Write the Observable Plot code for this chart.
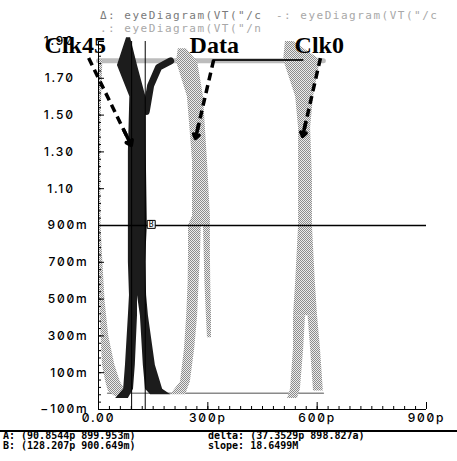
<!DOCTYPE html>
<html><head><meta charset="utf-8">
<script src="https://cdn.jsdelivr.net/npm/d3@7"></script>
<script src="https://cdn.jsdelivr.net/npm/@observablehq/plot@0.6"></script>
<style>
html,body{margin:0;padding:0;background:#fff;}
#wrap{position:relative;width:457px;height:461px;overflow:hidden;background:#fff;}
#wrap svg{position:absolute;left:0;top:0;}
.leg{position:absolute;font:11px/11px "DejaVu Sans Mono",monospace;letter-spacing:1.5px;white-space:pre;}
#sep{position:absolute;left:0;top:430px;width:457px;height:2px;background:#000;}
.ro{position:absolute;font:bold 10px/10px "DejaVu Sans Mono",monospace;white-space:pre;color:#000;}
g[aria-label="y-axis tick label"] text, g[aria-label="x-axis tick label"] text{
  font-family:Inter,"DejaVu Sans",sans-serif;font-size:12px;font-weight:500;letter-spacing:1.8px;
  font-variant-numeric:slashed-zero;font-feature-settings:"zero" 1;fill:#000;}
</style></head>
<body><div id="wrap"></div>
<script>
// ---- axis ticks ----
const xTicks = [0, 300, 600, 900];
const xTickLabels = ["0.00", "300p", "600p", "900p"];
const yTicks = [-0.1, 0.1, 0.3, 0.5, 0.7, 0.9, 1.1, 1.3, 1.5, 1.7, 1.9];
const yTickLabels = ["−100m", "100m", "300m", "500m", "700m", "900m", "1.10", "1.30", "1.50", "1.70", "1.90"];

// ---- eye-diagram bands (time ps, voltage V) ----
// left falling edge tail (light)
const leftV  = [1.80, 1.50, 1.20, 0.90, 0.70, 0.49, 0.30, 0.14, 0.05, 0.00, -0.03];
const leftT1 = [0, 0, 0, 0, 1, 3, 7, 11, 20, 27, 45];
const leftT2 = [12, 7, 6, 7, 12, 18, 28, 45, 60, 75, 82];
// Data crossing (light)
const dataV   = [1.86, 1.79, 1.60, 1.25, 0.95, 0.90];
const dataT1  = [219, 214, 244, 258, 258, 247];
const dataT2  = [241, 272, 288, 299, 307, 307];
const dataLV  = [0.90, 0.75, 0.59, 0.41, 0.23, 0.05, -0.02];
const dataLT1 = [247, 247, 246, 242, 236, 225, 198];
const dataLT2 = [282, 280, 276, 272, 264, 252, 239];
const dataRV  = [0.90, 0.75, 0.59, 0.41, 0.29];
const dataRT1 = [288, 290, 292, 296, 299];
const dataRT2 = [307, 307, 308, 310, 310];
// Clk0 crossing (light)
const clk0V   = [1.90, 1.80, 1.60, 1.43, 1.16, 0.90, 0.59, 0.41];
const clk0T1  = [513, 508, 541, 549, 549, 549, 541, 535];
const clk0T2  = [535, 609, 590, 582, 587, 587, 595, 601];
const clk0LV  = [0.41, 0.23, 0.01, -0.04];
const clk0LT1 = [535, 535, 527, 519];
const clk0LT2 = [568, 563, 554, 546];
const clk0RV  = [0.41, 0.23, 0.00];
const clk0RT1 = [575, 582, 590];
const clk0RT2 = [601, 609, 617];
// Clk45 crossing (dark)
const c45V   = [1.92, 1.77, 1.60, 1.30, 0.90, 0.70, 0.52];
const c45T1  = [77, 52, 86, 82, 82, 82, 85];
const c45T2  = [88, 107, 130, 131, 134, 129, 132];
const c45LV  = [0.52, 0.41, 0.14, 0.01, -0.04];
const c45LT1 = [85, 82, 74, 69, 47];
const c45LT2 = [107, 107, 101, 96, 82];
const c45RV  = [0.52, 0.41, 0.14, 0.01, -0.02];
const c45RT1 = [107, 115, 123, 129, 143];
const c45RT2 = [132, 137, 156, 176, 198];
// levels / settling traces
const highT = [0, 617],  highV = [1.795, 1.795];
const lowT  = [25, 617], lowV  = [-0.012, -0.012];
const c45RiseT = [131, 143, 165, 198], c45RiseV = [1.52, 1.66, 1.76, 1.795];
const c45HighT = [315, 560], c45HighV = [1.80, 1.80];

// ---- cursors ----
const cursorT = [90.8544, 128.207];
const cursorV = [0.899953, 0.900649];
const thresholdV = [0.9];

// ---- annotations ----
const labelNames = ["Clk45", "Data", "Clk0"];
const labelT = [-148, 250, 538];
const labelV = [1.835, 1.835, 1.835];
const arrowT1 = [-27, 316, 609], arrowV1 = [1.81, 1.80, 1.81];
const arrowT2 = [90, 266, 560],  arrowV2 = [1.335, 1.373, 1.384];

const legendRows = [
  {text: "Δ: eyeDiagram(VT(\"/c", color: "#7a7a7a", left: 100, top: 10},
  {text: "-: eyeDiagram(VT(\"/c", color: "#a8a8a8", left: 276, top: 10},
  {text: ".: eyeDiagram(VT(\"/n", color: "#a8a8a8", left: 100, top: 23}
];
const readout = [
  {text: "A: (90.8544p 899.953m)", left: 3, top: 431},
  {text: "B: (128.207p 900.649m)", left: 3, top: 441},
  {text: "delta: (37.3529p 898.827a)", left: 208, top: 431},
  {text: "slope: 18.6499M", left: 208, top: 441}
];

function band(name, v, t1, t2) { return v.map((d, i) => ({band: name, v: d, t1: t1[i], t2: t2[i]})); }
function trace(name, t, v) { return t.map((d, i) => ({id: name, t: d, v: v[i]})); }

const lightBands = [
  ...band("left", leftV, leftT1, leftT2),
  ...band("data", dataV, dataT1, dataT2),
  ...band("dataL", dataLV, dataLT1, dataLT2),
  ...band("dataR", dataRV, dataRT1, dataRT2),
  ...band("clk0", clk0V, clk0T1, clk0T2),
  ...band("clk0L", clk0LV, clk0LT1, clk0LT2),
  ...band("clk0R", clk0RV, clk0RT1, clk0RT2)
];
const darkBands = [
  ...band("c45", c45V, c45T1, c45T2),
  ...band("c45L", c45LV, c45LT1, c45LT2),
  ...band("c45R", c45RV, c45RT1, c45RT2)
];
const labels = labelNames.map((n, i) => ({n, t: labelT[i], v: labelV[i]}));
const arrows = arrowT1.map((d, i) => ({t1: d, v1: arrowV1[i], t2: arrowT2[i], v2: arrowV2[i]}));
// short final segment of each arrow, for a solid head
const heads = arrows.map(a => ({t1: a.t1 + (a.t2 - a.t1) * 0.82, v1: a.v1 + (a.v2 - a.v1) * 0.82, t2: a.t2, v2: a.v2}));
const xMinor = d3.range(0, 901, 30);
const yMinor = d3.range(-0.1, 1.9001, 0.04);
const fmtY = d => { const l = yTickLabels[yTicks.indexOf(d)]; return l.endsWith("m") ? l : l + "\u2003"; };
const fmtX = d => xTickLabels[xTicks.indexOf(d)];

const LIGHT = "url(#dither)", DARK = "#1c1c1c";
const chart = Plot.plot({
  width: 457, height: 432,
  marginLeft: 98, marginRight: 31, marginTop: 41, marginBottom: 23,
  x: {domain: [0, 900]},
  y: {domain: [-0.1, 1.9]},
  style: {background: "transparent", overflow: "visible"},
  marks: [
    Plot.line(trace("high", highT, highV), {x: "t", y: "v", stroke: LIGHT, strokeWidth: 5}),
    Plot.line(trace("low", lowT, lowV), {x: "t", y: "v", stroke: "#8a8a8a", strokeWidth: 1.5}),
    Plot.areaX(lightBands, {y: "v", x1: "t1", x2: "t2", z: "band", fill: LIGHT}),
    Plot.areaX(darkBands, {y: "v", x1: "t1", x2: "t2", z: "band", fill: DARK}),
    Plot.line(trace("rise", c45RiseT, c45RiseV), {x: "t", y: "v", stroke: DARK, strokeWidth: 7}),
    Plot.line(trace("c45high", c45HighT, c45HighV), {x: "t", y: "v", stroke: DARK, strokeWidth: 2}),
    Plot.ruleY(thresholdV, {stroke: "#000", strokeWidth: 1.6}),
    Plot.ruleX(cursorT, {stroke: "#000", strokeWidth: 1}),
    Plot.dot([{t: cursorT[1], v: cursorV[1]}], {x: "t", y: "v", symbol: "square", r: 4.5, dx: 6, dy: -1, fill: "#fff", stroke: "#000", strokeWidth: 1}),
    Plot.text([{t: cursorT[1], v: cursorV[1]}], {x: "t", y: "v", text: () => "B", dx: 6, dy: -1, fontSize: 8, fontFamily: "DejaVu Sans Mono", fill: "#000"}),
    // axes
    Plot.ruleX([0], {stroke: "#000", strokeWidth: 1}),
    Plot.ruleY([-0.1], {stroke: "#000", strokeWidth: 1}),
    Plot.axisY(yMinor, {tickSize: -3, tickFormat: () => "", stroke: "#000"}),
    Plot.axisY(yTicks, {tickSize: -6, tickFormat: () => "", stroke: "#000"}),
    Plot.axisY(yTicks, {tickSize: 0, tickPadding: 10, tickFormat: fmtY, label: null}),
    Plot.axisX(xMinor, {tickSize: -3, tickFormat: () => "", stroke: "#000"}),
    Plot.axisX(xTicks, {tickSize: -7, tickFormat: () => "", stroke: "#000"}),
    Plot.axisX(xTicks, {tickSize: 0, tickPadding: 4, tickFormat: fmtX, label: null}),
    // annotations
    Plot.link(arrows, {x1: "t1", y1: "v1", x2: "t2", y2: "v2", stroke: "#000", strokeWidth: 3.5, strokeDasharray: "8,5"}),
    Plot.arrow(heads, {x1: "t1", y1: "v1", x2: "t2", y2: "v2", stroke: "#000", strokeWidth: 3.5, headLength: 8, headAngle: 70}),
    Plot.text(labels, {x: "t", y: "v", text: "n", textAnchor: "start", lineAnchor: "bottom", fontFamily: "Liberation Serif", fontWeight: "bold", fontSize: 24, fill: "#000"})
  ]
});
// dither pattern for the light (scanned grey) traces
const defs = d3.select(chart).insert("defs", ":first-child");
const pat = defs.append("pattern").attr("id", "dither").attr("width", 2).attr("height", 2).attr("patternUnits", "userSpaceOnUse");
pat.append("rect").attr("width", 2).attr("height", 2).attr("fill", "#ececec");
pat.append("rect").attr("width", 1).attr("height", 1).attr("fill", "#8c8c8c");
pat.append("rect").attr("x", 1).attr("y", 1).attr("width", 1).attr("height", 1).attr("fill", "#8c8c8c");

const wrap = document.getElementById("wrap");
wrap.appendChild(chart);
for (const r of legendRows) {
  const d = document.createElement("div");
  d.className = "leg"; d.textContent = r.text;
  d.style.left = r.left + "px"; d.style.top = r.top + "px"; d.style.color = r.color;
  wrap.appendChild(d);
}
for (const r of readout) {
  const d = document.createElement("div");
  d.className = "ro"; d.textContent = r.text;
  d.style.left = r.left + "px"; d.style.top = r.top + "px";
  wrap.appendChild(d);
}
const sep = document.createElement("div"); sep.id = "sep"; wrap.appendChild(sep);
</script>
</body></html>
